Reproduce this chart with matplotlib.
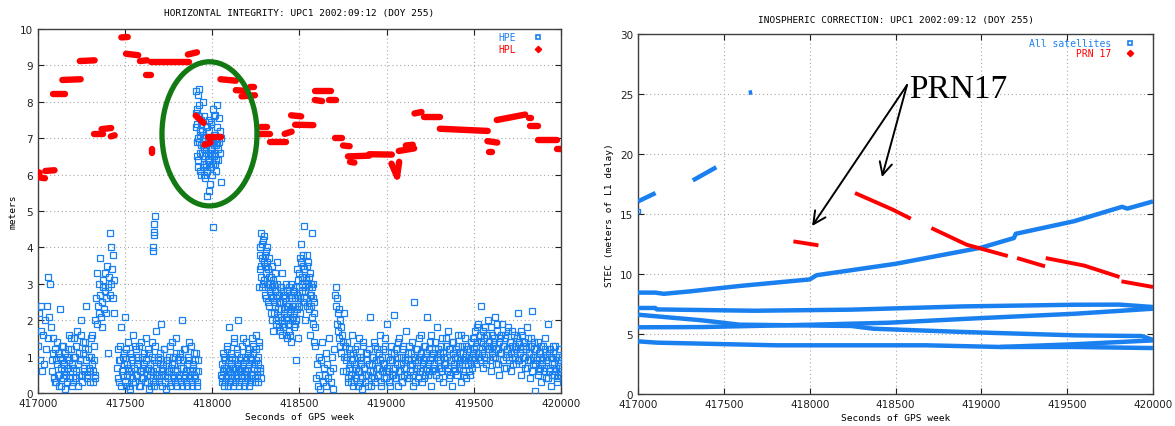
import numpy as np
import matplotlib
matplotlib.use("Agg")
import matplotlib.pyplot as plt
from matplotlib.patches import Ellipse

BLUE = "#1a80f0"
RED = "#ff0000"
GREEN = "#137a13"

TITLE_LEFT = "HORIZONTAL INTEGRITY: UPC1 2002:09:12 (DOY 255)"
TITLE_RIGHT = "INOSPHERIC CORRECTION: UPC1 2002:09:12 (DOY 255)"
XLABEL = "Seconds of GPS week"

# ---- HPE samples: (first epoch, sample step) and the values of each stretch
hpe_start = [417000, 417080, 417330, 417455, 417905, 418050, 418270, 418590, 418705, 418765, 419500,
             417083, 417458, 417908, 418053, 418272, 418768, 419503]
hpe_step = [5, 6, 3.5, 6, 3, 5, 4, 5, 3, 6, 6,
            6, 6, 3, 5, 4, 6, 6]
hpe_y_1 = [1.3, 2.2, 0.9, 1.7, 2.4, 0.6, 1.6, 0.8, 2.0, 1.2, 2.4, 1.5, 3.2, 2.1, 3.0, 1.8]
hpe_y_2 = [0.9, 1.5, 0.4, 1.2, 0.3, 0.8, 1.1, 0.5, 2.3, 0.2, 0.9, 1.3, 0.6, 0.1, 1.0, 0.7,
           1.6, 0.4, 1.2, 0.8, 0.3, 1.5, 1.0, 0.6, 1.7, 0.2, 1.1, 0.9, 2.0, 0.5, 1.4, 0.7,
           1.2, 2.4, 0.4, 1.0, 0.6, 1.5, 0.8, 0.3, 1.3, 0.5]
hpe_y_3 = [2.0, 2.6, 3.3, 1.9, 2.4, 3.0, 2.2, 3.7, 2.7, 2.1, 1.8, 2.5, 2.9, 3.1, 2.3, 2.8,
           3.3, 2.6, 2.2, 3.5, 1.1, 2.9, 3.2, 4.4, 2.7, 3.0, 4.0, 3.4, 2.6, 3.8, 2.2, 3.1]
hpe_y_4 = [0.7, 1.2, 0.3, 0.9, 1.8, 0.5, 1.1, 2.1, 0.2, 0.8, 1.4, 0.6, 0.1, 1.0, 0.4, 1.6,
           0.7, 0.3, 1.2, 0.5, 0.9, 1.3, 0.2, 0.6, 1.0, 0.4, 0.8, 1.5, 0.3, 0.7, 1.1, 0.5,
           0.2, 1.4, 0.6, 0.9, 0.3, 1.7, 0.5, 1.0, 0.4, 0.8, 1.9, 0.2, 0.7, 1.2, 0.5, 0.1,
           0.9, 0.6, 1.3, 0.3, 0.8, 1.0, 0.4, 0.6, 1.5, 0.2, 0.9, 0.5, 1.1, 0.3, 2.0, 0.7,
           0.4, 1.2, 0.6, 0.2, 0.9, 1.4, 0.5, 0.3, 0.8, 1.1, 0.4, 0.6, 0.2, 0.9]
hpe_y_5 = [7.7, 8.3, 6.9, 7.4, 8.2, 6.2, 7.9, 8.35, 7.1, 6.6, 7.5, 6.0, 7.2, 8.0, 6.8, 7.6,
           6.3, 7.0, 5.9, 6.7, 7.3, 6.1, 5.4, 6.9, 6.4, 5.55, 7.2, 6.6, 5.75, 7.45, 6.2, 6.9,
           6.0, 7.8, 6.5, 7.1, 6.3, 7.65, 6.8, 6.1, 7.9, 7.3, 6.7, 6.4, 7.55, 6.9, 7.2, 6.6,
           5.8, 7.0]
hpe_y_6 = [0.5, 0.3, 1.1, 0.7, 0.2, 0.9, 0.4, 1.2, 0.6, 1.8, 0.3, 0.8, 0.5, 1.0, 0.2, 1.5,
           0.7, 0.4, 1.1, 0.6, 2.0, 0.3, 0.9, 0.5, 1.3, 0.8, 0.2, 1.0, 0.6, 1.4, 0.4, 0.7,
           1.2, 0.3, 0.9, 1.5, 0.5, 1.1, 0.8, 0.4, 1.6, 0.6, 1.0, 0.3, 1.3, 0.7]
hpe_y_7 = [2.9, 3.8, 4.4, 3.5, 4.1, 3.0, 4.3, 3.6, 2.7, 3.9, 3.3, 4.0, 2.5, 3.4, 3.7, 2.8,
           3.2, 2.2, 3.5, 2.6, 1.7, 3.0, 2.4, 3.3, 2.0, 2.7, 3.6, 2.3, 1.8, 2.9, 2.5, 2.1,
           3.3, 1.6, 2.8, 2.2, 1.9, 2.6, 3.0, 1.5, 2.4, 2.0, 2.9, 1.7, 2.3, 3.0, 1.4, 2.6,
           2.1, 1.8, 2.8, 2.4, 0.9, 2.0, 3.4, 2.6, 1.5, 2.9, 3.7, 2.2, 4.1, 3.0, 2.5, 3.5,
           4.6, 2.8, 2.0, 3.2, 3.8, 2.4, 3.6, 2.9, 1.6, 3.3, 2.7, 4.4, 2.1, 3.0, 1.4, 2.5]
hpe_y_8 = [1.3, 0.4, 0.8, 0.2, 1.0, 0.5, 0.1, 0.9, 1.4, 0.3, 0.7, 0.5, 1.1, 0.2, 0.8, 0.4,
           1.5, 0.6, 0.3, 1.0, 0.1, 0.7, 1.2]
hpe_y_9 = [2.7, 2.9, 2.4, 1.9, 2.6, 2.2, 1.7, 2.3, 1.5, 2.0, 1.3, 1.8, 1.1, 1.6, 0.6, 1.4,
           2.2, 1.0, 1.3]
hpe_y_10 = [0.9, 1.4, 0.3, 0.7, 1.1, 0.5, 1.6, 0.2, 0.8, 1.2, 0.4, 1.0, 0.6, 1.5, 0.3, 0.9,
            0.1, 1.3, 0.7, 0.5, 1.1, 0.2, 0.8, 2.1, 0.4, 1.0, 0.6, 1.4, 0.3, 0.9, 1.2, 0.5,
            0.7, 1.6, 0.2, 1.0, 0.8, 0.4, 1.3, 0.6, 1.9, 0.3, 0.9, 1.1, 0.5, 0.7, 2.15, 0.4,
            1.2, 0.8, 0.2, 1.5, 0.6, 1.0, 0.3, 1.3, 0.7, 0.9, 1.7, 0.5, 1.1, 0.4, 0.8, 1.4,
            0.2, 2.5, 0.9, 0.6, 1.2, 0.4, 1.0, 0.7, 1.6, 0.3, 0.9, 1.3, 0.5, 1.1, 2.1, 0.8,
            0.6, 1.4, 0.2, 1.0, 0.7, 1.2, 0.5, 1.8, 0.9, 0.4, 1.1, 0.7, 1.5, 0.3, 1.0, 0.8,
            1.3, 0.6, 1.7, 0.4, 1.2, 0.9, 0.2, 1.4, 0.7, 1.0, 0.5, 1.6, 0.8, 1.1, 0.3, 1.3,
            0.6, 0.9, 1.5, 0.4, 1.2, 0.8, 1.0, 0.5, 1.4, 0.7, 1.1]
hpe_y_11 = [1.2, 1.7, 0.8, 1.4, 1.9, 1.0, 1.6, 2.4, 1.1, 0.7, 1.5, 1.8, 0.9, 1.3, 2.0, 1.2,
            0.6, 1.6, 1.0, 1.4, 2.1, 0.8, 1.7, 1.2, 0.5, 1.5, 1.1, 1.9, 0.9, 1.3, 1.6, 0.7,
            1.2, 1.8, 1.0, 1.4, 0.6, 1.7, 1.1, 1.3, 0.8, 1.5, 2.2, 0.9, 1.2, 0.5, 1.6, 1.0,
            1.4, 0.7, 1.3, 1.8, 0.9, 1.1, 0.4, 1.5, 2.25, 0.8, 1.2, 0.05, 1.0, 1.4, 0.6, 1.1,
            0.3, 0.9, 1.3, 0.7, 1.5, 0.4, 1.0, 1.9, 0.6, 1.2, 0.2, 0.8, 1.1, 0.5, 1.3, 0.7,
            0.3, 1.0, 0.6, 0.9]
# second satellite-geometry pass through the busiest stretches
hpe_y_12 = [0.6, 1.1, 0.3, 0.9, 1.4, 0.5, 0.2, 1.0, 0.7, 1.3, 0.4, 0.8, 1.1, 0.5, 0.3, 1.2,
            0.9, 0.6, 1.5, 0.2, 0.7, 1.0, 0.4, 1.3, 0.8, 0.5, 0.9, 1.6, 0.3, 1.1, 0.6, 1.4,
            0.9, 0.5, 1.2, 0.7, 0.3, 1.0, 1.6, 0.6, 0.9, 0.4]
hpe_y_13 = [0.4, 0.9, 1.3, 0.2, 0.6, 1.0, 0.8, 0.3, 1.2, 0.5, 0.7, 0.2, 1.1, 0.6, 0.9, 0.3,
            1.3, 0.5, 0.8, 1.0, 0.2, 0.6, 1.4, 0.4, 0.7, 1.1, 0.3, 0.9, 0.5, 1.2, 0.1, 0.8,
            0.6, 1.0, 0.4, 0.2, 1.3, 0.7, 0.9, 0.3, 1.1, 0.5, 0.6, 0.8, 1.2, 0.3, 0.9, 0.6,
            0.4, 1.0, 0.2, 0.7, 1.4, 0.5, 0.8, 0.3, 1.1, 0.6, 0.4, 1.0, 0.7, 0.2, 0.9, 1.2,
            0.5, 0.3, 0.8, 1.0, 0.4, 0.6, 1.3, 0.2, 0.7, 0.5, 0.9, 1.1, 0.3, 0.6]
hpe_y_14 = [7.3, 6.5, 7.8, 7.0, 6.4, 7.6, 6.9, 7.2, 6.1, 6.8, 7.4, 6.6, 6.2, 7.1, 6.7, 6.0,
            6.5, 7.0, 6.3, 6.8, 6.1, 7.3, 6.6, 6.9, 7.5, 6.4, 7.0, 6.2, 6.7, 7.4, 6.5, 6.9,
            6.3, 7.6, 6.8, 7.1, 6.6, 7.0, 6.4, 6.9]
hpe_y_15 = [0.8, 0.4, 0.6, 1.0, 0.3, 0.7, 1.3, 0.5, 0.2, 0.9, 0.6, 1.1, 0.4, 0.7, 1.4, 0.3,
            0.9, 0.5, 1.2, 0.8, 0.2, 0.6, 1.0, 0.4, 0.7, 1.5, 0.5, 0.3, 0.9, 0.6, 1.1, 0.2,
            0.8, 1.0, 0.5, 0.4, 1.3, 0.7, 0.3, 0.9, 1.2, 0.5, 0.8, 1.4, 0.6, 0.4]
hpe_y_16 = [3.4, 4.0, 3.2, 3.7, 2.9, 4.2, 3.1, 3.8, 3.5, 2.6, 3.0, 3.6, 2.9, 3.2, 2.4, 3.0,
            2.7, 2.0, 2.9, 3.1, 2.5, 2.2, 2.8, 1.9, 2.6, 3.0, 2.1, 2.5, 2.7, 1.7, 2.3, 2.9,
            2.0, 2.5, 1.8, 2.7, 2.3, 1.6, 2.1, 2.8, 2.4, 1.9, 2.6, 2.2, 1.6, 2.7, 2.0, 2.4,
            2.8, 2.2, 1.9, 2.6, 2.9, 2.3, 2.7, 3.1, 2.4, 3.3, 2.6, 3.6, 2.8, 3.2, 3.8, 2.5,
            3.4, 2.9, 3.1, 2.6, 3.5, 3.0, 2.3, 3.2, 2.7, 3.0, 2.4, 2.9, 1.9, 2.6, 2.2, 1.8]
hpe_y_17 = [0.6, 1.0, 0.4, 1.2, 0.8, 0.3, 0.9, 1.1, 0.5, 0.7, 1.3, 0.2, 0.6, 1.0, 0.8, 0.4,
            1.4, 0.7, 0.3, 1.1, 0.9, 0.5, 1.2, 0.6, 0.2, 0.8, 1.0, 0.4, 1.3, 0.7, 0.5, 1.1,
            0.9, 0.3, 0.6, 1.2, 0.8, 1.5, 0.4, 0.7, 1.0, 0.6, 0.2, 1.3, 0.9, 0.5, 1.1, 0.7,
            0.4, 1.0, 1.4, 0.6, 0.8, 0.3, 1.2, 0.5, 1.0, 0.7, 0.4, 0.9, 1.3, 0.6, 1.1, 0.8,
            0.5, 1.0, 0.3, 1.2, 0.7, 0.9, 1.5, 0.6, 1.1, 0.8, 0.4, 1.3, 1.0, 0.7, 0.5, 1.2,
            0.9, 1.6, 0.6, 1.1, 0.8, 1.4, 0.5, 1.0, 1.2, 0.7, 0.9, 1.3, 0.6, 1.1, 0.8, 1.5,
            1.0, 0.7, 1.2, 0.5, 0.9, 1.4, 1.1, 0.8, 0.6, 1.2, 1.0, 1.3, 0.7, 0.9, 1.6, 0.8,
            1.1, 0.5, 1.0, 1.3, 0.9, 0.6, 1.2, 0.8, 1.0, 1.5, 0.9]
hpe_y_18 = [1.5, 1.0, 1.3, 1.8, 1.1, 0.9, 1.4, 1.2, 1.7, 1.0, 1.3, 0.8, 1.6, 1.2, 1.4, 0.9,
            1.8, 1.1, 1.3, 1.5, 1.0, 1.2, 1.9, 0.8, 1.4, 1.1, 1.6, 1.3, 0.7, 1.5, 1.0, 1.2,
            1.7, 0.9, 1.4, 1.1, 1.3, 0.8, 1.6, 1.0, 1.2, 1.5, 0.9, 1.4, 1.1, 1.7, 0.8, 1.3,
            1.0, 1.2, 0.7, 1.5, 1.1, 0.9, 1.3, 0.6, 1.0, 1.4, 0.8, 1.2, 0.9, 0.5, 1.1, 0.7,
            1.3, 0.8, 1.0, 0.6, 1.2, 0.9, 0.4, 1.1, 0.7, 1.0, 0.5, 1.3, 0.8, 0.6, 1.0, 0.4,
            0.9, 0.7, 1.2, 0.5]
hpe_stretches = [hpe_y_1, hpe_y_2, hpe_y_3, hpe_y_4, hpe_y_5, hpe_y_6, hpe_y_7,
                 hpe_y_8, hpe_y_9, hpe_y_10, hpe_y_11,
                 hpe_y_12, hpe_y_13, hpe_y_14, hpe_y_15, hpe_y_16, hpe_y_17, hpe_y_18]
# isolated HPE outliers
hpe_out_x = [417660, 417662, 417664, 417666, 417668, 417670, 418005]
hpe_out_y = [3.9, 4.0, 4.35, 4.42, 4.65, 4.85, 4.55]

# ---- HPL: runs of (nearly) constant protection level  x0, x1, y0, y1
hpl_x0 = [417000, 417012, 417042, 417085, 417088, 417090, 417140, 417240, 417320, 417332,
          417365, 417418, 417448, 417478, 417500, 417505, 417567, 417580, 417585, 417620,
          417655, 417650, 417860, 417905, 417955, 417978, 418047, 418050, 418135, 418168,
          418215, 418262, 418280, 418330, 418415, 418420, 418452, 418475, 418585, 418585,
          418590, 418588, 418668, 418705, 418718, 418750, 418770, 418778, 418790, 418818,
          418900, 418992, 419028, 419060, 419070, 419110, 419160, 419170, 419195, 419215,
          419305, 419570, 419578, 419585, 419632, 419798, 419825, 419815, 419868, 419978]
hpl_x1 = [417010, 417040, 417095, 417085, 417155, 417090, 417245, 417325, 417375, 417332,
          417420, 417440, 417448, 417515, 417500, 417575, 417567, 417580, 417625, 417650,
          417655, 417865, 417912, 417950, 417990, 418050, 418135, 418050, 418200, 418245,
          418240, 418330, 418312, 418425, 418455, 418420, 418510, 418580, 418585, 418585,
          418680, 418630, 418710, 418745, 418718, 418788, 418770, 418900, 418815, 418818,
          419030, 418992, 419060, 419072, 419158, 419150, 419200, 419170, 419195, 419305,
          419580, 419570, 419635, 419605, 419795, 419798, 419870, 419830, 419975, 420000]
hpl_y0 = [6.07, 5.92, 6.10, 5.95, 8.22, 8.40, 8.60, 9.12, 7.12, 7.45,
          7.25, 7.05, 9.48, 9.77, 9.90, 9.32, 9.00, 8.60, 9.12, 8.75,
          6.70, 9.10, 9.30, 7.62, 6.82, 7.04, 8.62, 8.80, 8.32, 8.15,
          8.40, 7.12, 7.30, 6.90, 7.12, 6.78, 7.63, 7.37, 6.90, 8.35,
          8.30, 8.05, 8.04, 7.00, 7.28, 6.80, 6.57, 6.50, 6.35, 6.22,
          6.56, 6.35, 6.30, 5.95, 6.65, 6.80, 7.68, 8.00, 7.30, 7.57,
          7.26, 7.55, 6.92, 6.62, 7.50, 7.30, 7.33, 7.55, 6.96, 6.70]
hpl_y1 = [6.05, 5.90, 6.12, 5.95, 8.22, 8.40, 8.62, 9.14, 7.12, 7.45,
          7.28, 7.08, 9.48, 9.78, 9.90, 9.28, 9.00, 8.60, 9.14, 8.75,
          6.60, 9.10, 9.36, 7.42, 6.88, 7.04, 8.58, 8.80, 8.30, 8.18,
          8.40, 7.12, 7.30, 6.90, 7.18, 6.78, 7.60, 7.36, 6.90, 8.35,
          8.30, 8.02, 8.04, 7.00, 7.28, 6.78, 6.57, 6.52, 6.33, 6.22,
          6.55, 6.35, 5.95, 6.35, 6.72, 6.82, 7.72, 8.00, 7.30, 7.57,
          7.20, 7.55, 6.88, 6.62, 7.65, 7.30, 7.33, 7.55, 6.96, 6.70]

# ---- STEC arcs, all satellites
stec_x = [
    [417000, 417102],
    [417319, 417456],
    [417645, 417665],
    [417000, 417100, 417150, 417300, 417590, 418000, 418040, 418500, 419000, 419190,
     419200, 419540, 419820, 419850, 420000],
    [417000, 417100, 417110, 417677, 418242, 418893, 419545, 419805, 420000],
    [417000, 417373, 417590, 418242, 418372, 418893, 419545, 419935, 420000],
    [417000, 417373, 418025, 418459, 419002, 419545, 420000],
    [417000, 417110, 417808, 418676, 419110, 419545, 420000],
    [419110, 419545, 420000],
]
stec_y = [
    [16.05, 16.75],
    [17.80, 18.90],
    [25.10, 25.15],
    [8.45, 8.45, 8.35, 8.55, 9.00, 9.55, 9.90, 10.85, 12.20, 13.00,
     13.35, 14.40, 15.60, 15.45, 16.05],
    [7.17, 7.17, 7.05, 6.94, 7.03, 7.30, 7.44, 7.45, 7.25],
    [6.61, 6.14, 5.78, 5.67, 5.44, 5.17, 4.89, 4.83, 4.50],
    [5.56, 5.58, 5.78, 5.94, 6.33, 6.69, 7.11],
    [4.39, 4.28, 4.06, 4.06, 3.92, 3.92, 3.83],
    [3.92, 4.15, 4.47],
]
stec_pt_x = [417000]
stec_pt_y = [15.25]

# ---- STEC arcs, PRN 17
prn_x = [
    [417905, 418051],
    [418264, 418480, 418589],
    [418709, 418915, 419154],
    [419208, 419371],
    [419375, 419600, 419805],
    [419816, 420000],
]
prn_y = [
    [12.72, 12.39],
    [16.75, 15.39, 14.61],
    [13.83, 12.44, 11.50],
    [11.33, 10.64],
    [11.33, 10.70, 9.75],
    [9.39, 8.92],
]

MONO = "DejaVu Sans Mono"
plt.rcParams["font.family"] = "DejaVu Sans"


def style_axes(ax, ymax, ystep):
    ax.set_xlim(417000, 420000)
    ax.set_ylim(0, ymax)
    ax.set_xticks(np.arange(417000, 420001, 500))
    ax.set_yticks(np.arange(0, ymax + 0.1, ystep))
    ax.grid(True, color="#a8a8a8", linestyle=(0, (1, 2.5)), linewidth=0.8)
    ax.set_axisbelow(True)
    ax.tick_params(direction="in", top=True, right=True, length=4,
                   labelsize=7.5, colors="#202020", width=0.8)
    for s in ax.spines.values():
        s.set_color("#404040")
        s.set_linewidth(1.0)
    ax.set_xlabel(XLABEL, fontfamily=MONO, fontsize=6.8, labelpad=3)


fig = plt.figure(figsize=(11.75, 4.27), dpi=100)
ax1 = fig.add_axes([0.0323, 0.0773, 0.4451, 0.8524])
ax2 = fig.add_axes([0.543, 0.0749, 0.4383, 0.8431])

# ---- left panel
style_axes(ax1, 10, 1)
ax1.set_title(TITLE_LEFT, fontfamily=MONO, fontsize=6.8, pad=10)
ax1.set_ylabel("meters", fontfamily=MONO, fontsize=6.8, labelpad=2)

for start, step, vals in zip(hpe_start, hpe_step, hpe_stretches):
    xs = start + step * np.arange(len(vals))
    ax1.plot(xs, vals, ls="none", marker="s", ms=4.0, mfc="none",
             mec=BLUE, mew=0.9, zorder=3)
ax1.plot(hpe_out_x, hpe_out_y, ls="none", marker="s", ms=4.0, mfc="none",
         mec=BLUE, mew=0.9, zorder=3)

for x0, x1, y0, y1 in zip(hpl_x0, hpl_x1, hpl_y0, hpl_y1):
    ax1.plot([x0, x1], [y0, y1], color=RED, lw=4.6, solid_capstyle="round", zorder=4)

ax1.add_patch(Ellipse((417984, 7.12), 545, 3.96, fill=False, ec=GREEN, lw=3.8, zorder=5))

# legend (gnuplot style: label then sample)
ax1.text(0.914, 0.978, "HPE", color=BLUE, fontfamily=MONO, fontsize=7,
         ha="right", va="center", transform=ax1.transAxes)
ax1.text(0.914, 0.945, "HPL", color=RED, fontfamily=MONO, fontsize=7,
         ha="right", va="center", transform=ax1.transAxes)
ax1.plot([0.956], [0.978], marker="s", ms=3.5, mfc="none", mec=BLUE, mew=1.2,
         transform=ax1.transAxes, clip_on=False)
ax1.plot([0.956], [0.945], marker="D", ms=3.2, color=RED, mec=RED,
         transform=ax1.transAxes, clip_on=False)

# ---- right panel
style_axes(ax2, 30, 5)
ax2.set_title(TITLE_RIGHT, fontfamily=MONO, fontsize=6.8, pad=9)
ax2.set_ylabel("STEC (meters of L1 delay)", fontfamily=MONO, fontsize=6.8, labelpad=4)

for xs, ys in zip(stec_x, stec_y):
    ax2.plot(xs, ys, color=BLUE, lw=3.2, solid_capstyle="butt", zorder=3)
ax2.plot(stec_pt_x, stec_pt_y, ls="none", marker="s", ms=3.5, mfc="none",
         mec=BLUE, mew=1.0, zorder=3)
for xs, ys in zip(prn_x, prn_y):
    ax2.plot(xs, ys, color=RED, lw=2.8, solid_capstyle="butt", zorder=4)

ax2.text(0.918, 0.975, "All satellites", color=BLUE, fontfamily=MONO, fontsize=7,
         ha="right", va="center", transform=ax2.transAxes)
ax2.text(0.918, 0.947, "PRN 17", color=RED, fontfamily=MONO, fontsize=7,
         ha="right", va="center", transform=ax2.transAxes)
ax2.plot([0.955], [0.975], marker="s", ms=3.5, mfc="none", mec=BLUE, mew=1.2,
         transform=ax2.transAxes, clip_on=False)
ax2.plot([0.955], [0.947], marker="D", ms=3.2, color=RED, mec=RED,
         transform=ax2.transAxes, clip_on=False)

# PRN17 annotation
arrow = dict(arrowstyle="->,head_length=0.9,head_width=0.45", color="black",
             lw=1.4, shrinkA=0, shrinkB=0)
ax2.annotate("", xy=(418014, 14.0), xytext=(418567, 25.75), arrowprops=arrow, zorder=6)
ax2.annotate("", xy=(418421, 18.08), xytext=(418567, 25.75), arrowprops=arrow, zorder=6)
ax2.text(418580, 25.4, "PRN17", fontfamily="Liberation Serif", fontsize=24,
         ha="left", va="center", color="black", zorder=6)

fig.savefig("out.png", dpi=100)
